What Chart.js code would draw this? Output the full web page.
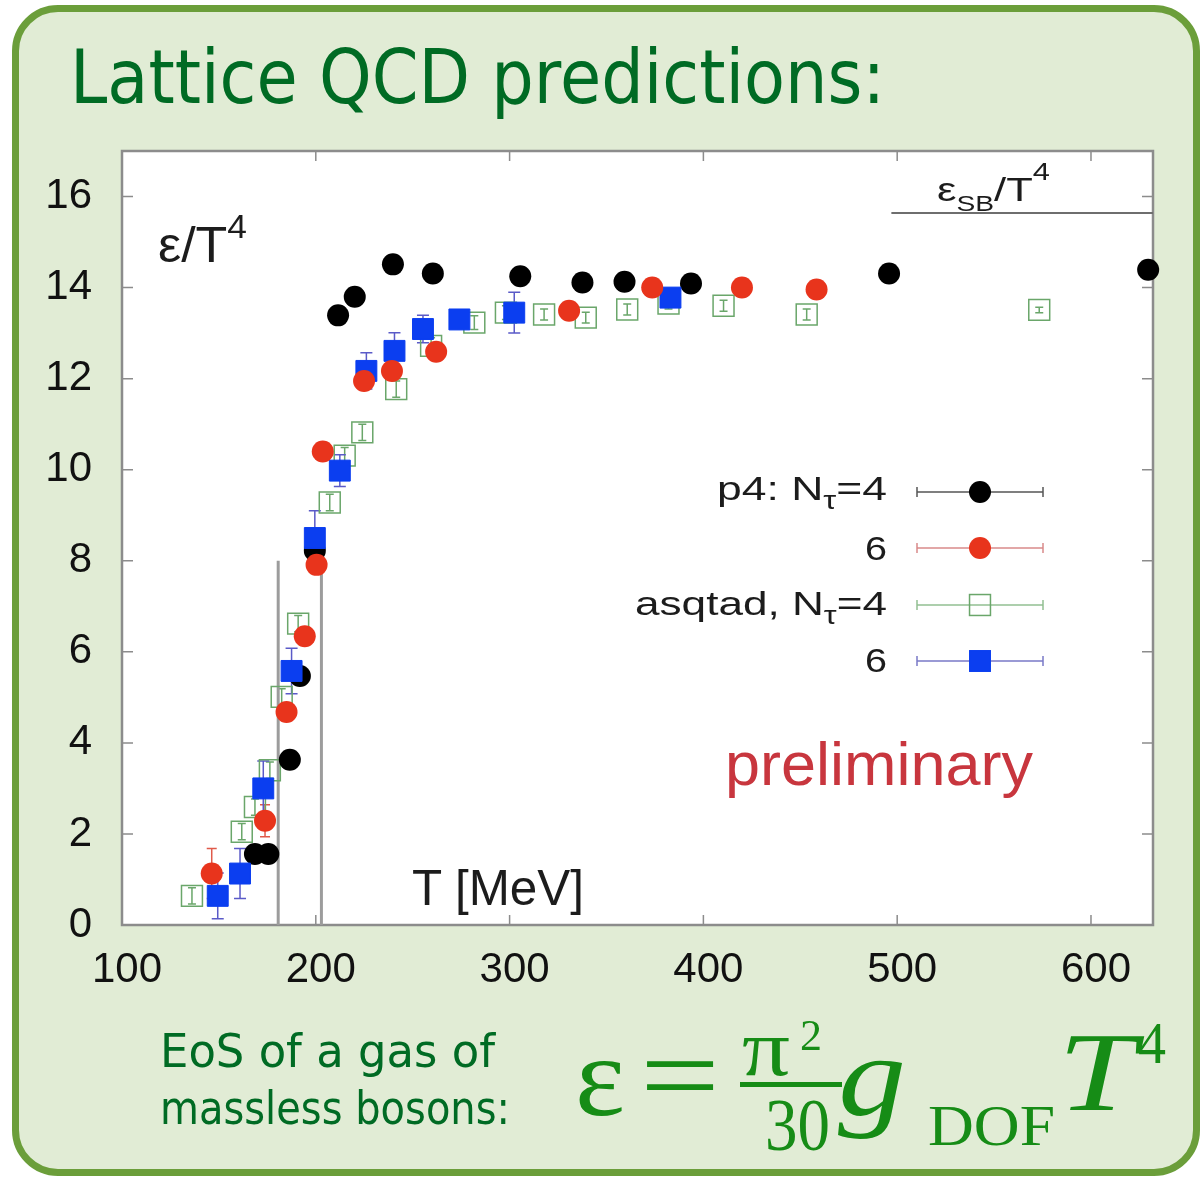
<!DOCTYPE html>
<html>
<head>
<meta charset="utf-8">
<script src="https://cdn.jsdelivr.net/npm/chart.js@4/dist/chart.umd.min.js"></script>
<style>
  html, body { margin: 0; padding: 0; background: #fff; }
  #wrap { position: relative; width: 1203px; height: 1178px; overflow: hidden; }
  #panel {
    position: absolute; left: 12px; top: 5px; width: 1188px; height: 1171px;
    box-sizing: border-box; border: 7px solid #6b9e3a; border-radius: 46px;
    background: #e1ecd5;
  }
  #chart { position: absolute; left: 0; top: 0; }
  #ov { position: absolute; left: 0; top: 0; pointer-events: none; }
  .plot { font-family: "Liberation Sans", Arial, sans-serif; fill: #1c1c1c; }
  .comic { font-family: "DejaVu Sans", sans-serif; fill: #006b24; }
  .math { font-family: "Liberation Serif", "Times New Roman", serif; fill: #168c16; }
</style>
</head>
<body>
<div id="wrap">
  <div id="panel"></div>
  <canvas id="chart" width="1203" height="1178"></canvas>
  <svg id="ov" width="1203" height="1178">
    <text class="comic" x="70" y="103" font-size="74" textLength="815" lengthAdjust="spacingAndGlyphs">Lattice QCD predictions:</text>

    <text class="plot" x="158" y="262" font-size="50" textLength="89" lengthAdjust="spacingAndGlyphs">ε/T<tspan font-size="34" dy="-24">4</tspan></text>
    <text class="plot" x="937" y="201" font-size="34" textLength="113" lengthAdjust="spacingAndGlyphs">ε<tspan font-size="22" dy="10">SB</tspan><tspan dy="-10">/T</tspan><tspan font-size="24" dy="-21">4</tspan></text>
    <text class="plot" x="412" y="905" font-size="50" textLength="172" lengthAdjust="spacingAndGlyphs">T [MeV]</text>
    <text class="plot" x="725" y="785" font-size="62" textLength="308" lengthAdjust="spacingAndGlyphs" style="fill:#c8363e">preliminary</text>

    <text class="plot" x="717" y="500" font-size="34" textLength="170" lengthAdjust="spacingAndGlyphs">p4: N<tspan font-size="25" dy="9">τ</tspan><tspan font-size="34" dy="-9">=4</tspan></text>
    <text class="plot" x="865" y="560" font-size="34" textLength="22" lengthAdjust="spacingAndGlyphs">6</text>
    <text class="plot" x="635" y="615" font-size="34" textLength="252" lengthAdjust="spacingAndGlyphs">asqtad, N<tspan font-size="25" dy="9">τ</tspan><tspan font-size="34" dy="-9">=4</tspan></text>
    <text class="plot" x="865" y="672" font-size="34" textLength="22" lengthAdjust="spacingAndGlyphs">6</text>

    <text class="comic" x="160" y="1067" font-size="46" textLength="335" lengthAdjust="spacingAndGlyphs">EoS of a gas of</text>
    <text class="comic" x="160" y="1124" font-size="46" textLength="350" lengthAdjust="spacingAndGlyphs">massless bosons:</text>

    <text class="math" x="575" y="1115" font-size="115" textLength="50" lengthAdjust="spacingAndGlyphs">ε</text>
    <text class="math" x="640" y="1114" font-size="115" textLength="80" lengthAdjust="spacingAndGlyphs">=</text>
    <text class="math" x="742" y="1075" font-size="80" textLength="48" lengthAdjust="spacingAndGlyphs">π</text>
    <text class="math" x="800" y="1050" font-size="45" textLength="22" lengthAdjust="spacingAndGlyphs">2</text>
    <rect x="740" y="1082" width="102" height="5" style="fill:#168c16"></rect>
    <text class="math" x="765" y="1150" font-size="75" textLength="65" lengthAdjust="spacingAndGlyphs">30</text>
    <text class="math" x="838" y="1115" font-size="115" font-style="italic" textLength="68" lengthAdjust="spacingAndGlyphs">g</text>
    <text class="math" x="928" y="1145" font-size="58" textLength="127" lengthAdjust="spacingAndGlyphs">DOF</text>
    <text class="math" x="1058" y="1110" font-size="112" font-style="italic" textLength="78" lengthAdjust="spacingAndGlyphs">T</text>
    <text class="math" x="1138" y="1063" font-size="60" textLength="28" lengthAdjust="spacingAndGlyphs">4</text>
  </svg>
</div>
<script>
// tick labels
const xTicks = [100, 200, 300, 400, 500, 600];
const yTicks = [0, 2, 4, 6, 8, 10, 12, 14, 16];

// p4, N_tau = 4 (black circles)
const p4n4T = [168.6, 175.5, 186.6, 191.8, 199.5, 211.5, 220.1, 239.8, 260.4, 305.5, 337.6, 359.3, 393.6, 495.8, 629.5];
const p4n4E = [1.56, 1.56, 3.63, 5.47, 8.22, 13.39, 13.80, 14.51, 14.31, 14.25, 14.11, 14.13, 14.09, 14.31, 14.39];
const p4n4Err = [0.1, 0.1, 0.1, 0.1, 0.1, 0.1, 0.1, 0.1, 0.1, 0.1, 0.1, 0.1, 0.1, 0.1, 0.1];

// p4, N_tau = 6 (red circles)
const p4n6T = [146.3, 173.8, 184.9, 194.3, 200.4, 203.6, 224.9, 239.3, 262.1, 330.7, 373.6, 419.9, 458.4];
const p4n6E = [1.13, 2.29, 4.68, 6.34, 7.91, 10.4, 11.95, 12.17, 12.59, 13.49, 14.0, 14.0, 13.96];
const p4n6Err = [0.55, 0.35, 0.2, 0.15, 0.15, 0.15, 0.15, 0.15, 0.1, 0.1, 0.1, 0.1, 0.1];

// asqtad, N_tau = 4 (open green squares)
const asq4T = [136.1, 161.8, 168.6, 176.3, 182.4, 190.9, 207.2, 214.9, 224.0, 241.5, 259.5, 281.8, 298.1, 317.8, 339.3, 360.7, 382.0, 410.4, 453.3, 573.3];
const asq4E = [0.64, 2.05, 2.59, 3.40, 5.01, 6.62, 9.28, 10.31, 10.82, 11.77, 12.72, 13.23, 13.45, 13.41, 13.34, 13.52, 13.65, 13.60, 13.41, 13.51];
const asq4Err = [0.18, 0.18, 0.18, 0.18, 0.18, 0.18, 0.18, 0.18, 0.18, 0.18, 0.18, 0.15, 0.15, 0.12, 0.12, 0.12, 0.12, 0.12, 0.12, 0.06];

// asqtad, N_tau = 6 (blue squares)
const asq6T = [149.4, 160.9, 172.9, 187.5, 199.5, 212.4, 226.1, 240.6, 255.3, 274.1, 302.4, 383.0];
const asq6E = [0.64, 1.13, 3.0, 5.58, 8.5, 9.98, 12.17, 12.61, 13.09, 13.30, 13.45, 13.78];
const asq6Err = [0.5, 0.55, 0.6, 0.5, 0.6, 0.35, 0.4, 0.4, 0.3, 0.15, 0.45, 0.15];

// transition band lines and Stefan-Boltzmann limit
const tcLines = [180.6, 202.9];
const tcTop = 8;
const sbLevel = 15.64;
const sbFrom = 497;
const xMax = 632;

const pts = (xs, ys) => xs.map((x, i) => ({ x: x, y: ys[i] }));

const frameColor = "#8c8c8c";

const plotExtras = {
  id: "plotExtras",
  beforeDraw(chart) {
    const { ctx, chartArea: a } = chart;
    ctx.save();
    ctx.fillStyle = "#fff";
    ctx.fillRect(a.left, a.top, a.right - a.left, a.bottom - a.top);
    ctx.restore();
  },
  beforeDatasetsDraw(chart) {
    const { ctx, chartArea: a, scales: { x, y } } = chart;
    ctx.save();
    // frame
    ctx.strokeStyle = frameColor;
    ctx.lineWidth = 2.5;
    ctx.strokeRect(a.left, a.top, a.right - a.left, a.bottom - a.top);
    // inward ticks on all four sides
    ctx.lineWidth = 1.5;
    ctx.beginPath();
    xTicks.forEach(v => {
      const px = x.getPixelForValue(v);
      ctx.moveTo(px, a.bottom); ctx.lineTo(px, a.bottom - 10);
      ctx.moveTo(px, a.top); ctx.lineTo(px, a.top + 10);
    });
    yTicks.forEach(v => {
      const py = y.getPixelForValue(v);
      ctx.moveTo(a.left, py); ctx.lineTo(a.left + 11, py);
      ctx.moveTo(a.right, py); ctx.lineTo(a.right - 11, py);
    });
    ctx.stroke();
    // error bars
    chart.data.datasets.forEach(ds => {
      if (!ds.errors) return;
      ctx.strokeStyle = ds.errColor;
      ctx.lineWidth = 1.5;
      const cap = ds.capSize;
      ds.data.forEach((p, i) => {
        const e = ds.errors[i];
        if (!e) return;
        const px = x.getPixelForValue(p.x);
        const y1 = y.getPixelForValue(p.y + e);
        const y2 = y.getPixelForValue(p.y - e);
        ctx.beginPath();
        ctx.moveTo(px, y1); ctx.lineTo(px, y2);
        ctx.moveTo(px - cap, y1); ctx.lineTo(px + cap, y1);
        ctx.moveTo(px - cap, y2); ctx.lineTo(px + cap, y2);
        ctx.stroke();
      });
    });
    ctx.restore();
  },
  afterDraw(chart) {
    // legend symbols
    const { ctx } = chart;
    const rows = [492, 548, 605, 661];
    const marks = chart.data.datasets.filter(ds => ds.legendRow !== undefined);
    ctx.save();
    marks.forEach(ds => {
      const ry = rows[ds.legendRow];
      ctx.strokeStyle = ds.legendLine;
      ctx.lineWidth = 1.5;
      ctx.beginPath();
      ctx.moveTo(917, ry); ctx.lineTo(1043, ry);
      ctx.moveTo(917, ry - 5); ctx.lineTo(917, ry + 5);
      ctx.moveTo(1043, ry - 5); ctx.lineTo(1043, ry + 5);
      ctx.stroke();
      ctx.fillStyle = ds.backgroundColor;
      ctx.strokeStyle = ds.borderColor;
      ctx.lineWidth = ds.borderWidth;
      if (ds.pointStyle === "circle") {
        ctx.beginPath();
        ctx.arc(980, ry, ds.pointRadius, 0, Math.PI * 2);
        ctx.fill();
      } else {
        const h = ds.pointRadius * Math.SQRT1_2;
        ctx.fillRect(980 - h, ry - h, 2 * h, 2 * h);
        ctx.strokeRect(980 - h, ry - h, 2 * h, 2 * h);
      }
    });
    ctx.restore();
  }
};

new Chart(document.getElementById("chart"), {
  type: "scatter",
  data: {
    datasets: [
      {
        label: "p4: N\u03c4=4",
        data: pts(p4n4T, p4n4E),
        errors: p4n4Err, errColor: "#333", capSize: 5,
        pointStyle: "circle", pointRadius: 11,
        backgroundColor: "#000", borderColor: "#000", borderWidth: 0,
        legendRow: 0, legendLine: "#555",
        order: 3, clip: false
      },
      {
        label: "6",
        data: pts(p4n6T, p4n6E),
        errors: p4n6Err, errColor: "#e05a4a", capSize: 5,
        pointStyle: "circle", pointRadius: 11,
        backgroundColor: "#e8341c", borderColor: "#e8341c", borderWidth: 0,
        legendRow: 1, legendLine: "#d98a8a",
        order: 1, clip: false
      },
      {
        label: "asqtad, N\u03c4=4",
        data: pts(asq4T, asq4E),
        errors: asq4Err, errColor: "#6aa66a", capSize: 4,
        pointStyle: "rect", pointRadius: 14.8,
        backgroundColor: "rgba(255,255,255,0)", borderColor: "#6aa66a", borderWidth: 1.5,
        legendRow: 2, legendLine: "#92c092",
        order: 4, clip: false
      },
      {
        label: "6",
        data: pts(asq6T, asq6E),
        errors: asq6Err, errColor: "#5a5ac8", capSize: 6,
        pointStyle: "rect", pointRadius: 14.8,
        backgroundColor: "#0b3ef0", borderColor: "#0b3ef0", borderWidth: 1,
        legendRow: 3, legendLine: "#7a7ac8",
        order: 2, clip: false
      },
      {
        data: [{ x: tcLines[0], y: 0 }, { x: tcLines[0], y: tcTop }],
        showLine: true, pointRadius: 0, borderColor: "#9c9c9c", borderWidth: 3, order: 10
      },
      {
        data: [{ x: tcLines[1], y: 0 }, { x: tcLines[1], y: tcTop }],
        showLine: true, pointRadius: 0, borderColor: "#9c9c9c", borderWidth: 3, order: 10
      },
      {
        data: [{ x: sbFrom, y: sbLevel }, { x: xMax, y: sbLevel }],
        showLine: true, pointRadius: 0, borderColor: "#6e6e6e", borderWidth: 2, order: 10
      }
    ]
  },
  options: {
    responsive: false,
    animation: false,
    events: [],
    layout: { padding: { top: 151, right: 50, left: 0, bottom: 183 } },
    plugins: { legend: { display: false }, tooltip: { enabled: false } },
    scales: {
      x: {
        type: "linear",
        min: 100,
        max: xMax,
        afterBuildTicks: s => { s.ticks = xTicks.map(v => ({ value: v })); },
        afterFit: s => { s.height = 70; },
        grid: { display: false, drawTicks: false },
        border: { display: false },
        ticks: {
          padding: 20,
          labelOffset: 5,
          color: "#111",
          font: { family: "Liberation Sans", size: 42 }
        }
      },
      y: {
        type: "linear",
        min: 0,
        max: 17,
        afterBuildTicks: s => { s.ticks = yTicks.map(v => ({ value: v })); },
        afterFit: s => { s.width = 122; },
        grid: { display: false, drawTicks: false },
        border: { display: false },
        ticks: {
          padding: 30,
          color: "#111",
          font: { family: "Liberation Sans", size: 42 }
        }
      }
    }
  },
  plugins: [plotExtras]
});
</script>
</body>
</html>
